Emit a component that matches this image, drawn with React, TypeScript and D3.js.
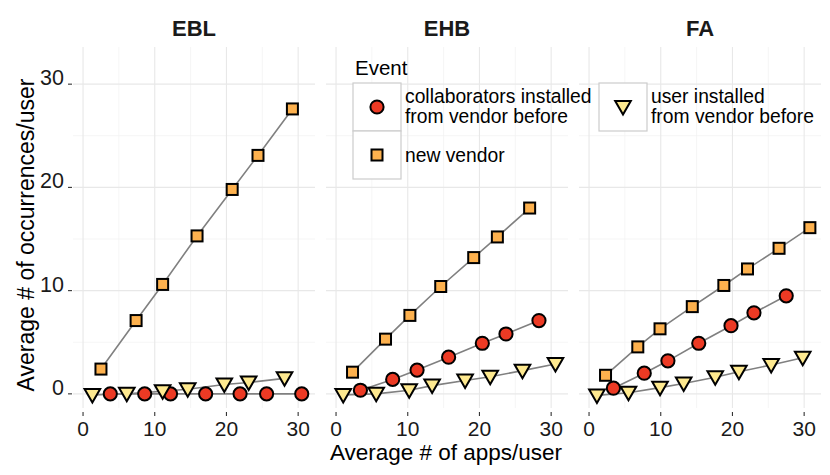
import React from "react";
import * as d3 from "d3";

// facet panels
const panels = ["EBL", "EHB", "FA"];

// series (legend order)
const seriesNames = [
  "collaborators installed\nfrom vendor before",
  "new vendor",
  "user installed\nfrom vendor before",
];

// EBL
const eblCollabX = [3.8, 8.6, 12.2, 17.1, 21.9, 25.6, 30.5];
const eblCollabY = [0, 0, 0, 0, 0, 0, 0];
const eblNewX = [2.5, 7.4, 11.1, 15.9, 20.8, 24.4, 29.2];
const eblNewY = [2.4, 7.1, 10.6, 15.3, 19.8, 23.1, 27.6];
const eblUserX = [1.3, 6.1, 11.1, 14.6, 19.7, 23.1, 28.1];
const eblUserY = [-0.1, 0.0, 0.25, 0.45, 0.9, 1.1, 1.5];

// EHB
const ehbCollabX = [3.4, 7.9, 11.3, 15.7, 20.4, 23.7, 28.3];
const ehbCollabY = [0.35, 1.4, 2.3, 3.55, 4.9, 5.8, 7.1];
const ehbNewX = [2.3, 6.9, 10.3, 14.6, 19.2, 22.5, 27.0];
const ehbNewY = [2.1, 5.3, 7.6, 10.4, 13.2, 15.2, 18.0];
const ehbUserX = [1.0, 5.6, 10.2, 13.4, 18.0, 21.5, 26.0, 30.6];
const ehbUserY = [-0.1, 0.0, 0.35, 0.8, 1.3, 1.65, 2.25, 2.9];

// FA
const faCollabX = [3.4, 7.7, 11.0, 15.3, 19.8, 23.0, 27.5];
const faCollabY = [0.55, 2.0, 3.2, 4.9, 6.6, 7.85, 9.5];
const faNewX = [2.3, 6.8, 9.9, 14.4, 18.8, 22.1, 26.5, 30.8];
const faNewY = [1.8, 4.55, 6.3, 8.45, 10.5, 12.1, 14.1, 16.1];
const faUserX = [1.1, 5.5, 9.9, 13.2, 17.6, 20.9, 25.4, 29.8];
const faUserY = [-0.15, 0.1, 0.6, 1.0, 1.6, 2.15, 2.8, 3.5];

const xTicks = [0, 10, 20, 30];
const yTicks = [0, 10, 20, 30];
const minorTicks = [5, 15, 25];

const zip = (xs: number[], ys: number[]) => xs.map((x, i) => [x, ys[i]] as [number, number]);

const panelData = [
  [zip(eblCollabX, eblCollabY), zip(eblNewX, eblNewY), zip(eblUserX, eblUserY)],
  [zip(ehbCollabX, ehbCollabY), zip(ehbNewX, ehbNewY), zip(ehbUserX, ehbUserY)],
  [zip(faCollabX, faCollabY), zip(faNewX, faNewY), zip(faUserX, faUserY)],
];

const fills = ["#ec3a24", "#fdb14e", "#fee98f"];
const FONT = "'Liberation Sans', Arial, Helvetica, sans-serif";

const panelLeft = [73, 326, 579];
const panelW = 242;
const top = 47;
const bottom = 408;

const y = d3.scaleLinear().domain([-1.37, 33.6]).range([bottom, top]);

function Marker({ kind, cx, cy }: { kind: number; cx: number; cy: number }) {
  const common = { fill: fills[kind], stroke: "#000", strokeWidth: 2 };
  if (kind === 0) return <circle cx={cx} cy={cy} r={6.6} {...common} />;
  if (kind === 1) return <rect x={cx - 5.5} y={cy - 5.5} width={11} height={11} {...common} />;
  return (
    <path
      d={`M${cx - 7.8},${cy - 6} L${cx + 7.8},${cy - 6} L${cx},${cy + 7.5} Z`}
      {...common}
      strokeLinejoin="miter"
    />
  );
}

export default function App() {
  const line = d3.line<[number, number]>();
  return (
    <div style={{ position: "absolute", left: 0, top: 0 }}>
      <svg width={830} height={475} style={{ display: "block", background: "#fff" }} fontFamily={FONT}>
        {panels.map((name, p) => {
          const x = d3.scaleLinear().domain([-1.4, 32.35]).range([panelLeft[p], panelLeft[p] + panelW]);
          const x0 = panelLeft[p];
          const x1 = panelLeft[p] + panelW;
          return (
            <g key={name}>
              {/* minor grid */}
              {minorTicks.map((t) => (
                <g key={"m" + t}>
                  <line x1={x(t)} x2={x(t)} y1={top} y2={bottom} stroke="#f2f2f2" strokeWidth={0.8} />
                  <line x1={x0} x2={x1} y1={y(t)} y2={y(t)} stroke="#f2f2f2" strokeWidth={0.8} />
                </g>
              ))}
              {/* major grid */}
              {xTicks.map((t) => (
                <line key={"vx" + t} x1={x(t)} x2={x(t)} y1={top} y2={bottom} stroke="#e8e8e8" strokeWidth={1.1} />
              ))}
              {yTicks.map((t) => (
                <line key={"hy" + t} x1={x0} x2={x1} y1={y(t)} y2={y(t)} stroke="#e8e8e8" strokeWidth={1.1} />
              ))}
              {/* strip title */}
              <text x={(x0 + x1) / 2} y={36} textAnchor="middle" fontWeight="bold" fontSize={22} fill="#1a1a1a">
                {name}
              </text>
              {/* x ticks */}
              {xTicks.map((t) => (
                <g key={"xt" + t}>
                  <line x1={x(t)} x2={x(t)} y1={412} y2={416} stroke="#333" strokeWidth={1.1} />
                  <text x={x(t)} y={435.5} textAnchor="middle" fontSize={21} fill="#1a1a1a">
                    {t}
                  </text>
                </g>
              ))}
              {/* lines */}
              {panelData[p].map((pts, s) => (
                <path
                  key={"l" + s}
                  d={line(pts.map(([a, b]) => [x(a), y(b)]) as [number, number][]) ?? ""}
                  fill="none"
                  stroke="#808080"
                  strokeWidth={1.6}
                />
              ))}
              {/* points */}
              {panelData[p].map((pts, s) =>
                pts.map(([a, b], i) => <Marker key={`p${s}-${i}`} kind={s} cx={x(a)} cy={y(b)} />)
              )}
            </g>
          );
        })}

        {/* y axis ticks and labels */}
        {yTicks.map((t) => (
          <g key={"yt" + t}>
            <line x1={68} x2={72} y1={y(t)} y2={y(t)} stroke="#333" strokeWidth={1.1} />
            <text x={64} y={y(t) + 1} textAnchor="end" fontSize={21.5} fill="#1a1a1a">
              {t}
            </text>
          </g>
        ))}

        {/* axis titles */}
        <text x={446} y={460} textAnchor="middle" fontSize={22.5} fill="#000">
          Average # of apps/user
        </text>
        <text transform={`translate(34,235) rotate(-90)`} textAnchor="middle" fontSize={23} fill="#000">
          Average # of occurrences/user
        </text>

        {/* legend */}
        <g>
          <text x={355} y={75} fontSize={20.5} fill="#000">
            Event
          </text>
          {[
            { bx: 353, by: 83, kind: 0, tx: 405 },
            { bx: 353, by: 131, kind: 1, tx: 405 },
            { bx: 599, by: 83, kind: 2, tx: 651 },
          ].map((k) => {
            const lines = seriesNames[k.kind].split("\n");
            const cy = k.by + 24;
            return (
              <g key={"lg" + k.kind}>
                <rect x={k.bx} y={k.by} width={48} height={48} fill="#fff" stroke="#cccccc" strokeWidth={1.2} />
                <Marker kind={k.kind} cx={k.bx + 24} cy={cy} />
                {lines.map((ln, i) => (
                  <text
                    key={i}
                    x={k.tx}
                    y={lines.length === 1 ? cy + 7 : k.by + 20 + i * 20}
                    fontSize={19.3}
                    fill="#000"
                  >
                    {ln}
                  </text>
                ))}
              </g>
            );
          })}
        </g>
      </svg>
    </div>
  );
}
